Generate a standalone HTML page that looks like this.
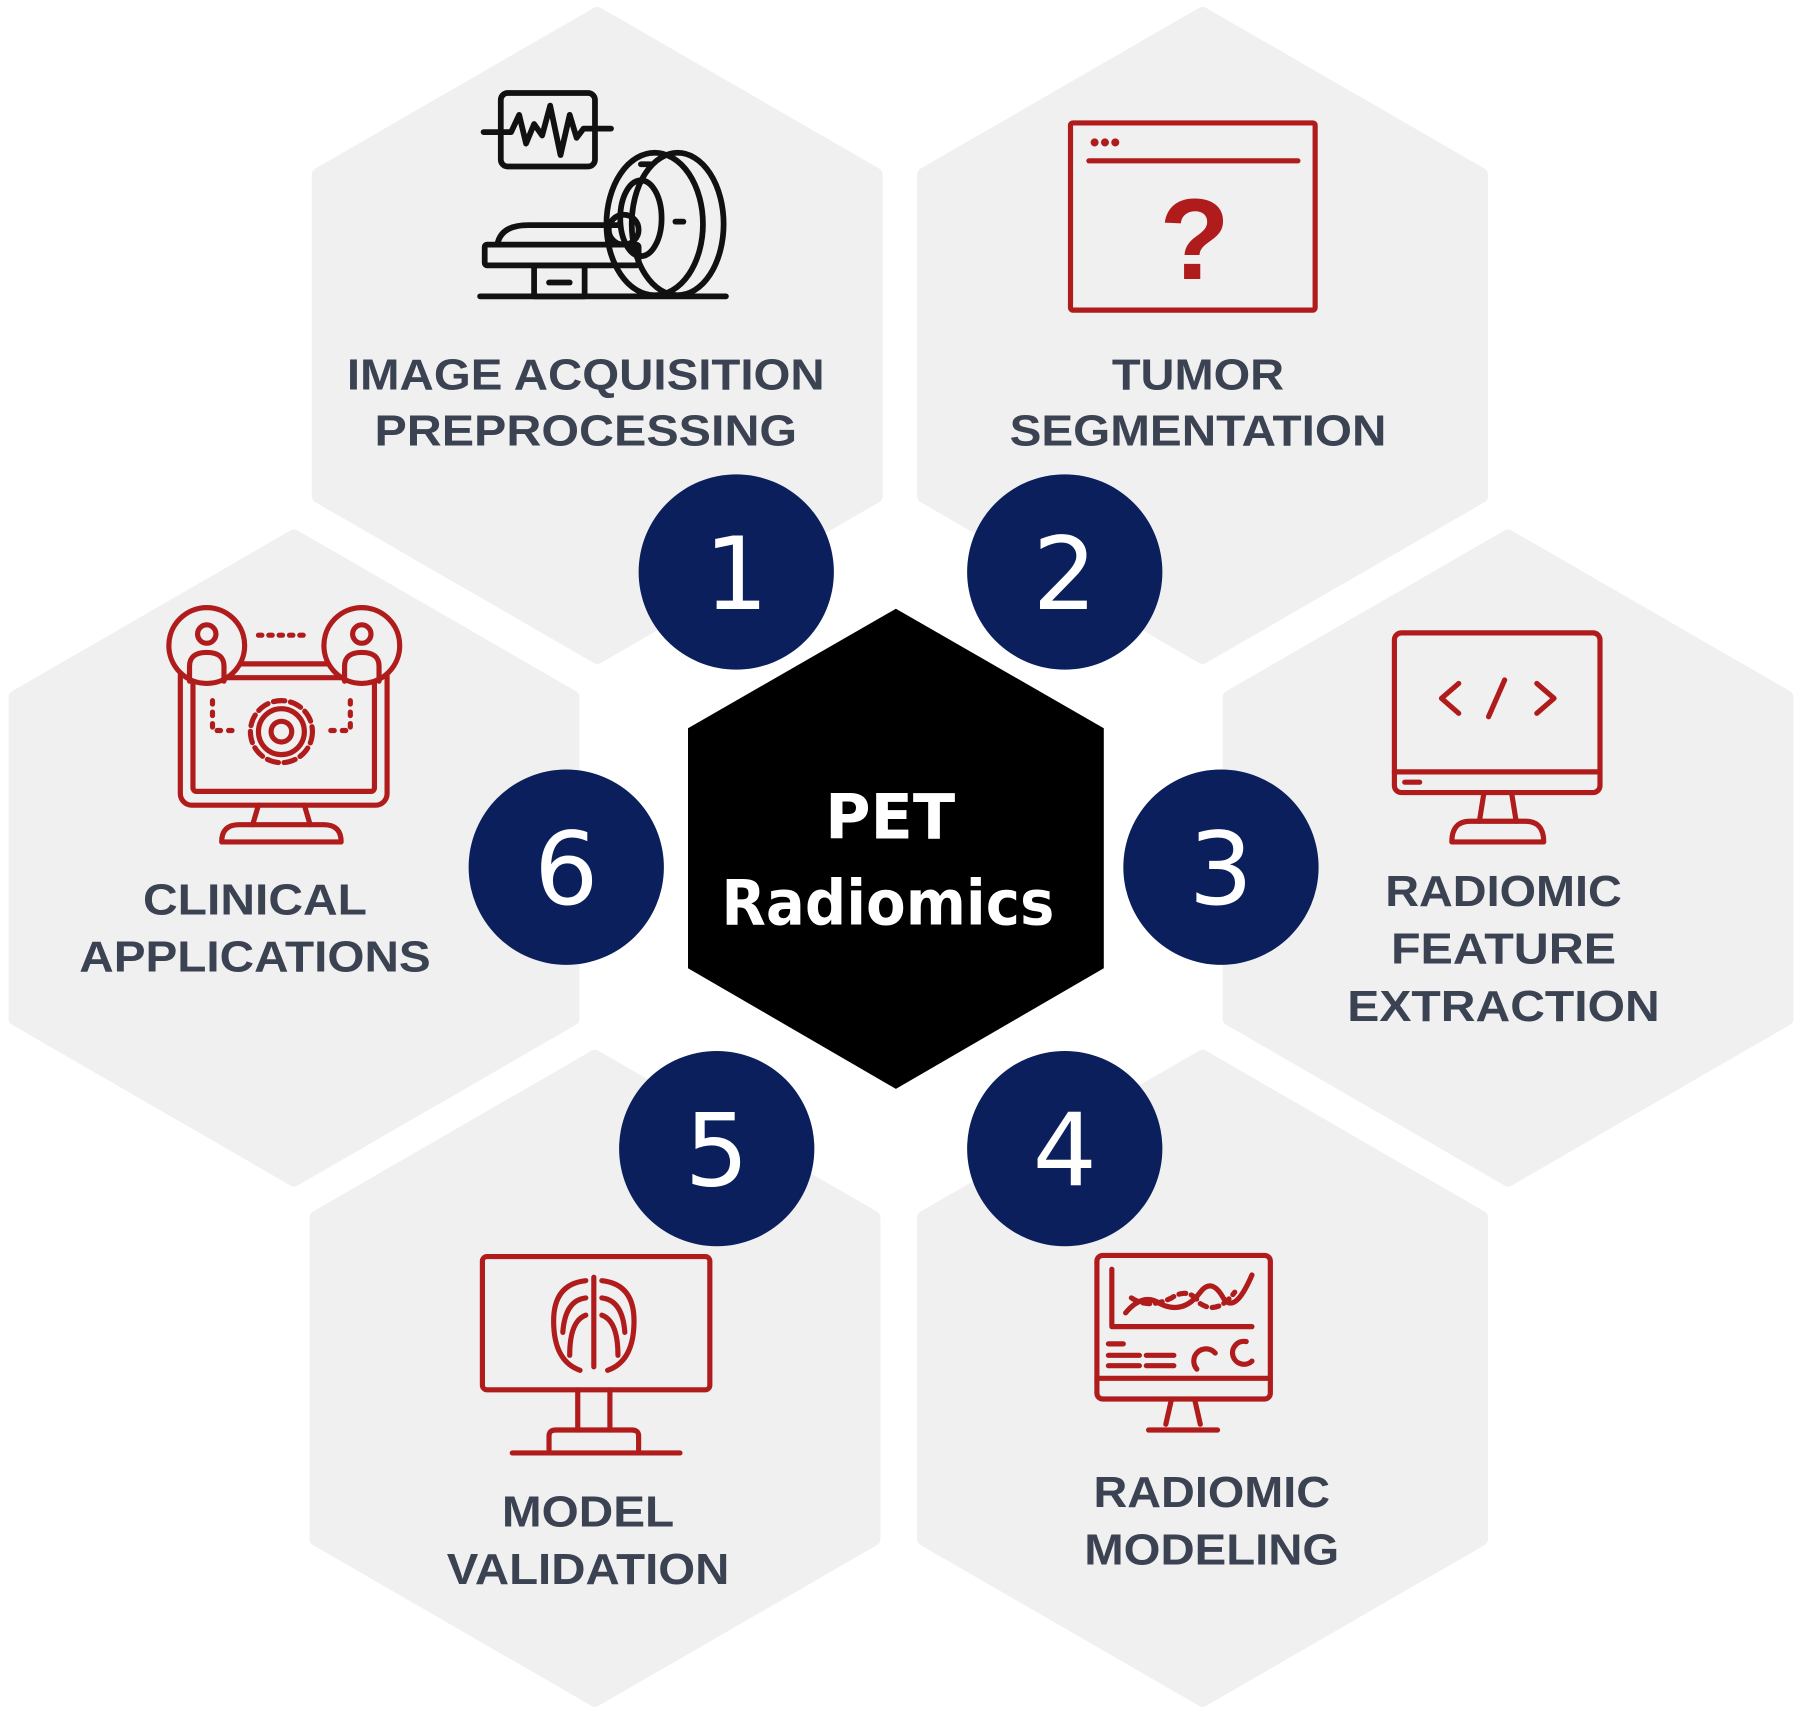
<!DOCTYPE html>
<html><head><meta charset="utf-8"><style>
html,body{margin:0;padding:0;background:#fff;}
svg{display:block;}
.lb{font-family:"Liberation Sans",Arial,sans-serif;font-weight:bold;font-size:38px;fill:#3b4252;text-anchor:middle;}
.num{font-family:"DejaVu Sans","Liberation Sans",sans-serif;font-size:88px;fill:#fff;text-anchor:middle;}
.r{fill:none;stroke:#b01c1c;stroke-width:4.5;stroke-linejoin:round;stroke-linecap:round;}
.k{fill:none;stroke:#111;stroke-width:5;stroke-linejoin:round;stroke-linecap:round;}
</style></head><body>
<svg width="1801" height="1716" viewBox="0 0 1568 1494" xmlns="http://www.w3.org/2000/svg">
<defs>
<path id="hx" d="M0,-280 L242.5,-140 L242.5,140 L0,280 L-242.5,140 L-242.5,-140 Z"/>
</defs>
<g fill="#f0f0f0" stroke="#f0f0f0" stroke-width="12" stroke-linejoin="round">
<use href="#hx" x="520" y="292"/>
<use href="#hx" x="1047" y="292"/>
<use href="#hx" x="1313" y="747"/>
<use href="#hx" x="256" y="747"/>
<use href="#hx" x="518" y="1200"/>
<use href="#hx" x="1047" y="1200"/>
</g>
<!-- central -->
<path d="M780,530 L961,634 L961,843 L780,948 L599,843 L599,634 Z" fill="#000"/>
<text x="775" y="730" font-family="'DejaVu Sans','Liberation Sans',sans-serif" font-weight="bold" font-size="54" fill="#fff" text-anchor="middle">PET</text>
<text x="773" y="805" font-family="'DejaVu Sans','Liberation Sans',sans-serif" font-weight="bold" font-size="54" fill="#fff" text-anchor="middle" textLength="290" lengthAdjust="spacingAndGlyphs">Radiomics</text>
<!-- circles -->
<g fill="#0a1f5c">
<circle cx="641" cy="498" r="85"/><circle cx="927" cy="498" r="85"/>
<circle cx="1063" cy="755" r="85"/><circle cx="493" cy="755" r="85"/>
<circle cx="624" cy="1000" r="85"/><circle cx="927" cy="1000" r="85"/>
</g>
<text class="num" x="641" y="530">1</text>
<text class="num" x="927" y="530">2</text>
<text class="num" x="1063" y="787">3</text>
<text class="num" x="493" y="787">6</text>
<text class="num" x="624" y="1032">5</text>
<text class="num" x="927" y="1032">4</text>
<!-- labels -->
<text class="lb" x="510" y="339" textLength="416" lengthAdjust="spacingAndGlyphs">IMAGE ACQUISITION</text>
<text class="lb" x="510" y="388" textLength="368" lengthAdjust="spacingAndGlyphs">PREPROCESSING</text>
<text class="lb" x="1043" y="339" textLength="150" lengthAdjust="spacingAndGlyphs">TUMOR</text>
<text class="lb" x="1043" y="388" textLength="328" lengthAdjust="spacingAndGlyphs">SEGMENTATION</text>
<text class="lb" x="1309" y="789" textLength="206" lengthAdjust="spacingAndGlyphs">RADIOMIC</text>
<text class="lb" x="1309" y="839" textLength="196" lengthAdjust="spacingAndGlyphs">FEATURE</text>
<text class="lb" x="1309" y="889" textLength="272" lengthAdjust="spacingAndGlyphs">EXTRACTION</text>
<text class="lb" x="222" y="796" textLength="195" lengthAdjust="spacingAndGlyphs">CLINICAL</text>
<text class="lb" x="222" y="846" textLength="306" lengthAdjust="spacingAndGlyphs">APPLICATIONS</text>
<text class="lb" x="512" y="1329" textLength="150" lengthAdjust="spacingAndGlyphs">MODEL</text>
<text class="lb" x="512" y="1379" textLength="246" lengthAdjust="spacingAndGlyphs">VALIDATION</text>
<text class="lb" x="1055" y="1312" textLength="206" lengthAdjust="spacingAndGlyphs">RADIOMIC</text>
<text class="lb" x="1055" y="1362" textLength="222" lengthAdjust="spacingAndGlyphs">MODELING</text>

<!-- scanner icon -->
<g class="k">
<rect x="436" y="81" width="82" height="64" rx="6"/>
<path d="M421,115 L445,115 L452,100 L458,125 L465,108 L472,118 L479,92 L488,135 L496,100 L502,120 L508,112 L532,112"/>
<ellipse cx="590" cy="195" rx="40" ry="62"/>
<ellipse cx="570" cy="195" rx="42" ry="62"/>
<ellipse cx="558" cy="190" rx="18" ry="33"/>
<line x1="558" y1="143" x2="566" y2="143"/><line x1="588" y1="193" x2="595" y2="193"/>
<path d="M433,213 Q436,196 460,196 L540,196"/>
<circle cx="543" cy="200" r="13"/>
<rect x="422" y="213" width="134" height="18" rx="2"/>
<rect x="465" y="231" width="44" height="27"/>
<line x1="478" y1="246" x2="496" y2="246"/>
<line x1="418" y1="258" x2="632" y2="258"/>
</g>
<!-- window icon -->
<g class="r">
<rect x="932" y="107" width="213" height="163" rx="2"/>
<line x1="948" y1="140" x2="1130" y2="140"/>
</g>
<g fill="#b01c1c"><circle cx="953" cy="124" r="3.5"/><circle cx="962" cy="124" r="3.5"/><circle cx="971" cy="124" r="3.5"/></g>
<text x="1040" y="243" font-family="'Liberation Sans',sans-serif" font-weight="bold" font-size="100" fill="#b01c1c" text-anchor="middle">?</text>
<!-- code monitor -->
<g class="r">
<rect x="1214" y="551" width="179" height="139" rx="6"/>
<line x1="1214" y1="672" x2="1393" y2="672"/>
<line x1="1223" y1="681" x2="1236" y2="681"/>
<path d="M1292,690 L1288,715 M1316,690 L1320,715"/>
<path d="M1264,733 Q1264,715 1280,715 L1328,715 Q1344,715 1344,733 Z"/>
<path d="M1270,595 L1255,608 L1270,621 M1338,595 L1353,608 L1338,621 M1310,592 L1296,624"/>
</g>
<!-- clinical icon -->
<g class="r">
<rect x="157" y="578" width="180" height="123" rx="10"/>
<rect x="168" y="590" width="158" height="99" rx="3"/>
<circle cx="180" cy="562" r="33" fill="#f0f0f0"/>
<circle cx="315" cy="562" r="33" fill="#f0f0f0"/>
<circle cx="180" cy="552" r="8"/><path d="M165,593 L165,580 Q165,568 180,568 Q195,568 195,580 L195,593"/>
<circle cx="315" cy="552" r="8"/><path d="M300,593 L300,580 Q300,568 315,568 Q330,568 330,580 L330,593"/>
<path d="M225,553 L270,553" stroke-dasharray="3 6"/>
<circle cx="245" cy="637" r="27" stroke-dasharray="10 5"/>
<circle cx="245" cy="637" r="20"/>
<circle cx="245" cy="637" r="9"/>
<path d="M185,610 L185,636 L205,636 M305,610 L305,636 L285,636" stroke-dasharray="3 7"/>
<path d="M225,701 L220,718 M265,701 L270,718"/>
<path d="M193,733 Q193,718 208,718 L282,718 Q297,718 297,733 Z"/>
</g>
<!-- ribcage monitor -->
<g class="r">
<rect x="420" y="1094" width="198" height="116" rx="4"/>
<path d="M503,1210 L503,1245 M531,1210 L531,1245"/>
<path d="M478,1262 L478,1250 Q478,1245 484,1245 L550,1245 Q556,1245 556,1250 L556,1262"/>
<line x1="446" y1="1265" x2="592" y2="1265"/>
<path d="M517,1112 L517,1190"/>
<path d="M510,1115 Q482,1118 482,1150 Q482,1185 505,1193 M510,1130 Q492,1132 490,1160 M510,1145 Q496,1150 496,1180"/>
<path d="M524,1115 Q552,1118 552,1150 Q552,1185 529,1193 M524,1130 Q542,1132 544,1160 M524,1145 Q538,1150 538,1180"/>
</g>
<!-- modeling monitor -->
<g class="r">
<rect x="955" y="1093" width="151" height="125" rx="5"/>
<line x1="955" y1="1200" x2="1106" y2="1200"/>
<path d="M1020,1218 L1015,1240 M1040,1218 L1045,1240"/>
<line x1="1000" y1="1245" x2="1060" y2="1245"/>
<path d="M968,1105 L968,1155 L1090,1155"/>
<path d="M980,1143 Q995,1125 1010,1135 Q1030,1145 1045,1125 Q1055,1112 1065,1130 Q1075,1145 1090,1110"/>
<path d="M985,1130 Q1000,1140 1020,1130 Q1035,1120 1045,1135 Q1060,1145 1075,1125" stroke-dasharray="6 5"/>
<path d="M965,1170 L978,1170 M965,1180 L992,1180 M965,1189 L992,1189 M998,1180 L1022,1180 M998,1189 L1022,1189" />
<path d="M1042,1192 A10,10 0 1,1 1058,1178"/>
<path d="M1090,1185 A10,10 0 1,1 1085,1168"/>
</g>
</svg>
</body></html>
